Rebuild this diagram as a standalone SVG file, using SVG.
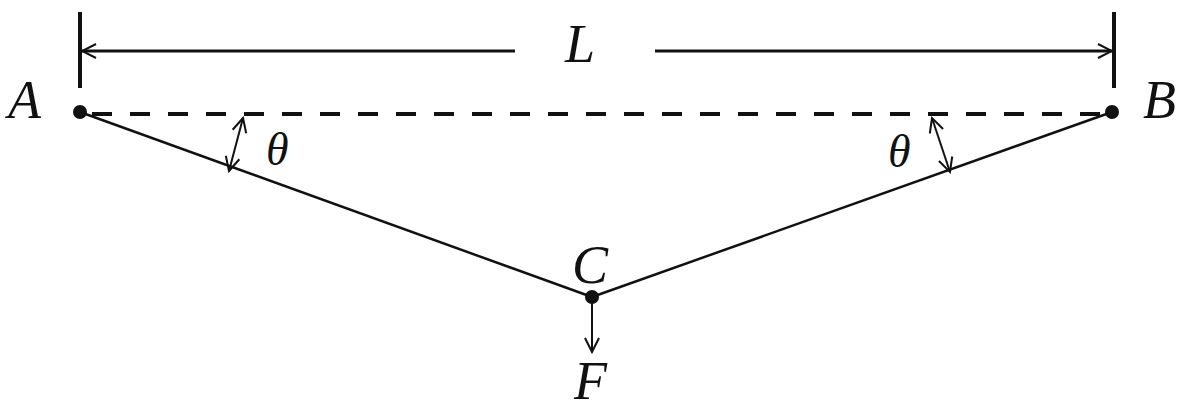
<svg xmlns="http://www.w3.org/2000/svg" width="1181" height="411" viewBox="0 0 1181 411">
<style>
.lbl{font-family:"Liberation Serif","Times New Roman",serif;font-style:italic;font-size:54px;fill:#111}
.th{font-family:"Liberation Serif","Times New Roman",serif;font-style:italic;font-size:46px;fill:#111}
.ln{stroke:#111;fill:none}
</style>
<defs>
<marker id="ah" viewBox="0 0 20 20" refX="18" refY="10" markerWidth="20" markerHeight="20" markerUnits="userSpaceOnUse" orient="auto-start-reverse">
<path d="M4,3 L18,10 L4,17" fill="none" stroke="#111" stroke-width="2"/>
</marker>
</defs>
<rect width="1181" height="411" fill="#fff"/>
<g id="connectors">
<line class="ln" x1="80" y1="12" x2="80" y2="88" stroke-width="4"/>
<line class="ln" x1="1114" y1="12" x2="1114" y2="88" stroke-width="4"/>
<line class="ln" x1="515" y1="51" x2="82" y2="51" stroke-width="3" marker-end="url(#ah)"/>
<line class="ln" x1="655" y1="51" x2="1112" y2="51" stroke-width="3" marker-end="url(#ah)"/>
<line class="ln" x1="92" y1="114" x2="1104" y2="114" stroke-width="4" stroke-dasharray="20 18"/>
<line class="ln" x1="80" y1="112" x2="592" y2="297" stroke-width="2.5"/>
<line class="ln" x1="1112" y1="112" x2="592" y2="297" stroke-width="2.5"/>
<line class="ln" x1="243" y1="118" x2="229" y2="171" stroke-width="2" marker-start="url(#ah)" marker-end="url(#ah)"/>
<line class="ln" x1="932" y1="118" x2="950" y2="172" stroke-width="2" marker-start="url(#ah)" marker-end="url(#ah)"/>
<line class="ln" x1="592" y1="297" x2="592" y2="352" stroke-width="2" marker-end="url(#ah)"/>
</g>
<g id="A"><circle cx="80" cy="112" r="7" fill="#111"/><text class="lbl" x="8" y="118">A</text></g>
<g id="B"><circle cx="1112" cy="112" r="7" fill="#111"/><text class="lbl" x="1143" y="118">B</text></g>
<g id="C"><circle cx="592" cy="297" r="7" fill="#111"/><text class="lbl" x="572" y="283">C</text></g>
<g id="F"><text class="lbl" x="574" y="399">F</text></g>
<g id="L"><text class="lbl" x="565" y="62">L</text></g>
<g id="theta1"><text class="th" x="266" y="165">θ</text></g>
<g id="theta2"><text class="th" x="888" y="167">θ</text></g>
</svg>
